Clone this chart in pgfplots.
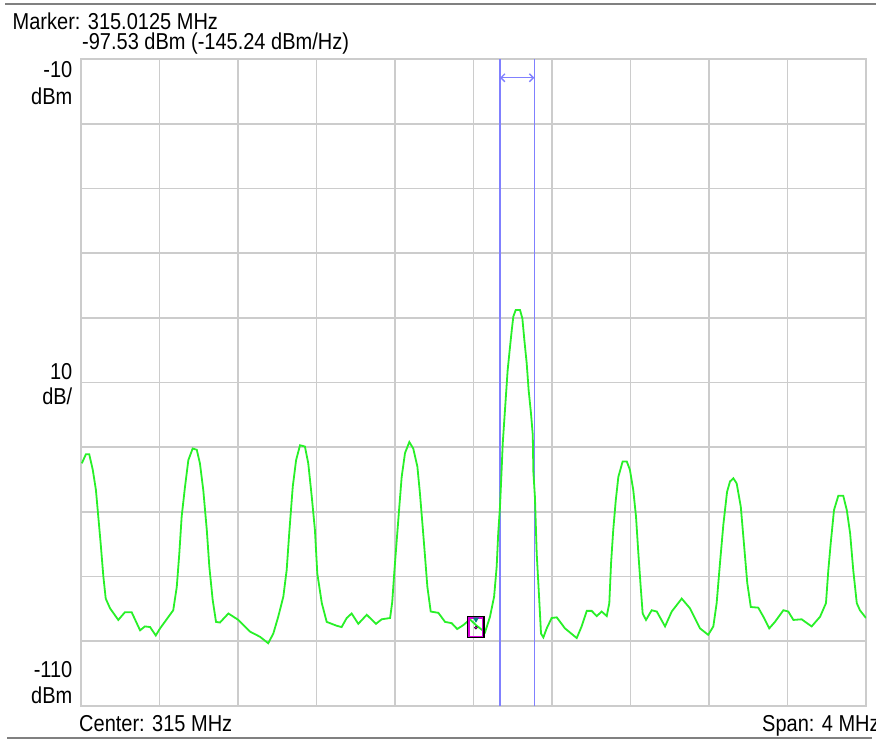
\documentclass[border=0pt]{standalone}
\usepackage{fontspec}
\setmainfont{Liberation Sans}
\usepackage{pgfplots}
\pgfplotsset{compat=1.18}
\usetikzlibrary{arrows.meta}
\definecolor{gridgray}{RGB}{204,204,204}
\definecolor{trace}{RGB}{40,240,40}
\definecolor{bandblue}{RGB}{128,128,255}
\definecolor{mkmag}{RGB}{220,0,220}
\definecolor{mkteal}{RGB}{0,128,128}
\newcommand{\T}[1]{\scalebox{1}[1.15]{#1}}
\begin{document}
\begin{tikzpicture}
\useasboundingbox (0,0) rectangle (876pt,740pt);
\fill[white] (0,0) rectangle (876pt,740pt);
\begin{axis}[
  at={(81pt,34pt)}, anchor=south west, scale only axis,
  width=785pt, height=647pt,
  xmin=313, xmax=317, ymin=-110, ymax=-10,
  xtick={313,313.4,313.8,314.2,314.6,315,315.4,315.8,316.2,316.6,317},
  ytick={-110,-100,-90,-80,-70,-60,-50,-40,-30,-20,-10},
  xticklabels={}, yticklabels={}, major tick length=0pt,
  grid=major, grid style={color=gridgray, line width=1.7pt},
  axis line style={color=gridgray, line width=1.7pt},
]
\addplot[color=bandblue, line width=1.4pt] coordinates {(315.135,-110) (315.135,-10)};
\addplot[color=bandblue, line width=1.4pt] coordinates {(315.310,-110) (315.310,-10)};
\addplot[color=trace, line width=1.8pt, sharp plot] coordinates {
(313.004,-72.5) (313.025,-71.1) (313.042,-71.1) (313.060,-73.5) (313.076,-76.6)
(313.088,-80.7) (313.100,-84.8) (313.114,-90.0) (313.126,-93.4) (313.148,-94.9)
(313.190,-96.7) (313.224,-95.5) (313.258,-95.5) (313.301,-98.3) (313.326,-97.7)
(313.352,-97.8) (313.381,-99.1) (313.403,-98.0) (313.470,-95.2) (313.488,-91.6)
(313.501,-86.4) (313.513,-80.7) (313.530,-76.1) (313.547,-72.0) (313.569,-70.2)
(313.590,-70.4) (313.606,-72.5) (313.623,-76.6) (313.641,-82.8) (313.654,-88.5)
(313.671,-93.6) (313.688,-97.0) (313.708,-97.1) (313.751,-95.7) (313.802,-96.7)
(313.861,-98.5) (313.912,-99.3) (313.954,-100.3) (313.980,-98.8) (314.005,-96.2)
(314.031,-93.1) (314.048,-89.0) (314.061,-83.3) (314.079,-76.1) (314.096,-72.0)
(314.116,-69.7) (314.141,-69.9) (314.158,-72.5) (314.176,-77.7) (314.192,-82.8)
(314.204,-89.5) (314.227,-94.1) (314.252,-97.0) (314.303,-97.6) (314.328,-97.8)
(314.354,-96.4) (314.379,-95.7) (314.413,-97.3) (314.456,-95.9) (314.503,-97.3)
(314.532,-96.6) (314.575,-96.4) (314.586,-93.9) (314.596,-89.5) (314.609,-84.3)
(314.622,-79.2) (314.634,-74.6) (314.651,-70.9) (314.673,-69.2) (314.693,-70.2)
(314.714,-73.0) (314.727,-77.1) (314.741,-82.3) (314.753,-86.9) (314.765,-91.6)
(314.782,-95.4) (314.821,-95.6) (314.855,-97.0) (314.889,-97.2) (314.917,-98.1)
(314.948,-97.5) (314.982,-96.6) (315.0125,-97.5) (315.059,-98.6) (315.084,-96.2)
(315.105,-93.1) (315.118,-88.5) (315.126,-83.3) (315.135,-79.2) (315.144,-73.0)
(315.149,-69.4) (315.157,-65.8) (315.166,-61.7) (315.174,-58.1) (315.186,-54.5)
(315.195,-51.9) (315.203,-49.8) (315.215,-48.8) (315.237,-48.8) (315.249,-50.1)
(315.259,-53.4) (315.271,-57.0) (315.281,-61.2) (315.293,-64.8) (315.302,-68.1)
(315.305,-73.8) (315.313,-77.7) (315.322,-86.4) (315.335,-93.6) (315.344,-98.8)
(315.356,-99.4) (315.373,-98.0) (315.398,-96.4) (315.424,-96.3) (315.466,-98.0)
(315.526,-99.5) (315.551,-97.7) (315.577,-95.3) (315.602,-95.3) (315.628,-96.1)
(315.653,-95.4) (315.679,-96.1) (315.692,-94.1) (315.701,-87.9) (315.712,-82.8)
(315.725,-78.2) (315.738,-74.6) (315.760,-72.2) (315.781,-72.2) (315.797,-73.5)
(315.814,-76.6) (315.828,-80.7) (315.840,-86.4) (315.852,-91.6) (315.862,-95.7)
(315.879,-96.7) (315.908,-95.2) (315.934,-95.4) (315.976,-97.7) (316.010,-95.4)
(316.061,-93.4) (316.103,-94.9) (316.154,-98.0) (316.196,-99.0) (316.222,-97.7)
(316.239,-94.1) (316.256,-87.9) (316.273,-82.0) (316.292,-76.9) (316.307,-75.3)
(316.324,-74.8) (316.341,-75.6) (316.362,-79.2) (316.378,-84.9) (316.395,-91.0)
(316.413,-94.7) (316.451,-94.8) (316.477,-96.2) (316.507,-98.0) (316.536,-97.0)
(316.579,-95.2) (316.604,-95.4) (316.630,-96.7) (316.672,-96.6) (316.723,-97.7)
(316.766,-96.2) (316.796,-94.1) (316.808,-89.0) (316.820,-84.9) (316.837,-79.7)
(316.859,-77.5) (316.884,-77.5) (316.902,-79.7) (316.919,-83.3) (316.935,-89.0)
(316.953,-94.1) (316.969,-95.2) (317.000,-96.4)
};
\addplot[color=bandblue, line width=1.4pt, arrows={Straight Barb[length=4pt,width=8pt]-Straight Barb[length=4pt,width=8pt]}] coordinates {(315.135,-12.9) (315.310,-12.9)};
\addplot[only marks, mark=square, mark size=10.5pt, mark options={draw=black, line width=1.2pt, xscale=0.76}] coordinates {(315.0125,-97.8)};
\addplot[only marks, mark=square, mark size=9.3pt, mark options={draw=mkmag, line width=1.6pt, xscale=0.72}] coordinates {(315.0125,-97.8)};
\addplot[only marks, mark=triangle*, mark size=3pt, mark options={fill=mkteal, draw=mkteal, rotate=180}] coordinates {(315.0125,-96.6)};
\addplot[only marks, mark=*, mark size=1.5pt, mark options={fill=mkmag, draw=black}] coordinates {(315.0125,-97.9)};
\end{axis}
\draw[gray, line width=1.6pt] (5pt,736pt) -- (876pt,736pt);
\draw[gray, line width=1.6pt] (7pt,2.3pt) -- (872pt,2.3pt);
\begin{scope}[every node/.style={inner sep=0pt, font=\fontsize{20}{24}\selectfont}]
\node[anchor=base west] at (12.5pt,710.7pt) {\T{Marker: 315.0125 MHz}};
\node[anchor=base west] at (82pt,690.5pt) {\T{-97.53 dBm (-145.24 dBm/Hz)}};
\node[anchor=base east] at (72.5pt,662.7pt) {\T{-10}};
\node[anchor=base east] at (72.5pt,635pt) {\T{dBm}};
\node[anchor=base east] at (72.5pt,360pt) {\T{10}};
\node[anchor=base east] at (72.5pt,335pt) {\T{dB/}};
\node[anchor=base east] at (72.5pt,62.7pt) {\T{-110}};
\node[anchor=base east] at (72.5pt,36.7pt) {\T{dBm}};
\node[anchor=base west] at (79pt,8.3pt) {\T{Center: 315 MHz}};
\node[anchor=base west] at (762pt,8.3pt) {\T{Span: 4 MHz}};
\end{scope}
\end{tikzpicture}
\end{document}
